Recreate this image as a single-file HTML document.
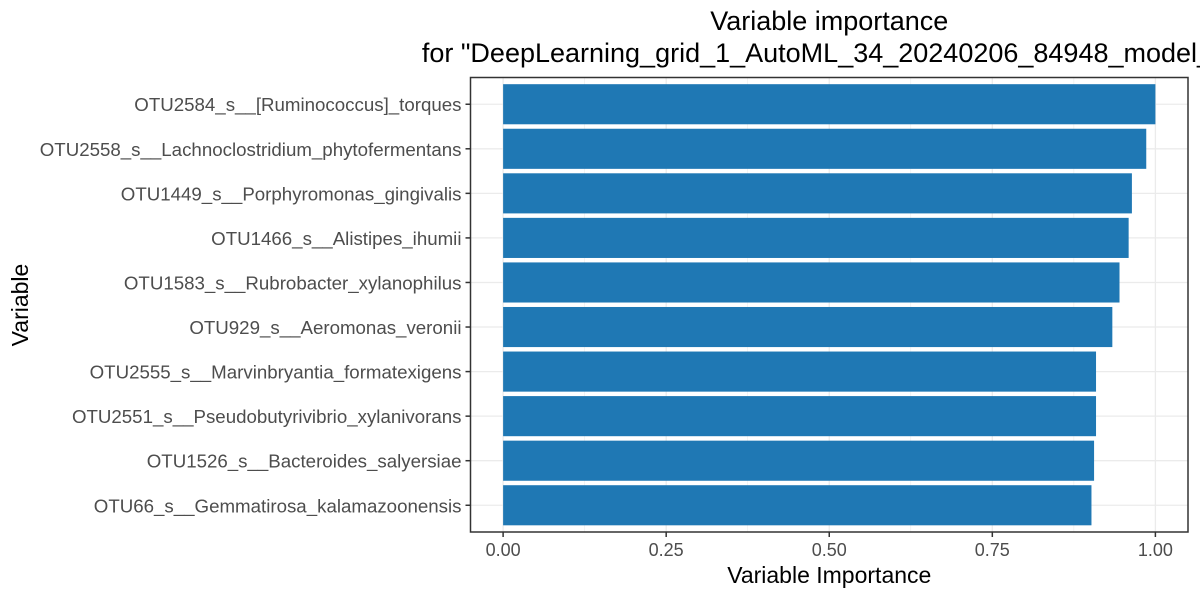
<!DOCTYPE html>
<html><head><meta charset="utf-8"><style>
body{margin:0;background:#fff;overflow:hidden;}
svg text{font-family:"Liberation Sans",sans-serif;}
</style></head><body>
<svg width="1200" height="600" id="chart">
</svg>
<script>
const categories=["OTU2584_s__[Ruminococcus]_torques","OTU2558_s__Lachnoclostridium_phytofermentans","OTU1449_s__Porphyromonas_gingivalis","OTU1466_s__Alistipes_ihumii","OTU1583_s__Rubrobacter_xylanophilus","OTU929_s__Aeromonas_veronii","OTU2555_s__Marvinbryantia_formatexigens","OTU2551_s__Pseudobutyrivibrio_xylanivorans","OTU1526_s__Bacteroides_salyersiae","OTU66_s__Gemmatirosa_kalamazoonensis"];
const importance=[1.0,0.986,0.964,0.959,0.945,0.934,0.909,0.909,0.906,0.902];
const xTicks=[0,0.25,0.5,0.75,1.0];
const xTickLabels=["0.00","0.25","0.50","0.75","1.00"];
const NS="http://www.w3.org/2000/svg";
const svg=document.getElementById('chart');
const L=470.5,R=1188,T=77.5,B=532;
const x=v=>L+(v+0.05)/1.1*(R-L);
const band=(B-T)/(categories.length-1+1.2);
const y=i=>T+(0.6+i)*band;
function mk(tag,attrs,parent){const e=document.createElementNS(NS,tag);for(const k in attrs)e.setAttribute(k,attrs[k]);(parent||svg).appendChild(e);return e;}
for(let i=0;i<xTicks.length-1;i++){const m=(xTicks[i]+xTicks[i+1])/2;
const g=mk('line',{x1:x(m),x2:x(m),y1:T,y2:B,stroke:'#ebebeb','stroke-width':0.6});

}
xTicks.forEach(t=>{const g=mk('line',{x1:x(t),x2:x(t),y1:T,y2:B,stroke:'#ebebeb','stroke-width':1.3});

});
categories.forEach((c,i)=>{const g=mk('line',{x1:L,x2:R,y1:y(i),y2:y(i),stroke:'#ebebeb','stroke-width':1.3});

});
categories.forEach((c,i)=>{const r=mk('rect',{x:x(0),y:y(i)-band*0.45,width:x(importance[i])-x(0),height:band*0.9,fill:'#1f78b4'});


const tk=mk('line',{x1:L-5,x2:L,y1:y(i),y2:y(i),stroke:'#333','stroke-width':1.5});


const t=mk('text',{x:L-9,y:y(i)+7,'text-anchor':'end','font-size':18.7,fill:'#4d4d4d'});t.textContent=c;

});
xTicks.forEach((v,i)=>{const tk=mk('line',{x1:x(v),x2:x(v),y1:B,y2:B+5,stroke:'#333','stroke-width':1.5});


const t=mk('text',{x:x(v),y:556,'text-anchor':'middle','font-size':18,fill:'#4d4d4d'});t.textContent=xTickLabels[i];

});
const bd=mk('rect',{x:L,y:T,width:R-L,height:B-T,fill:'none',stroke:'#333','stroke-width':1.5});


const xt=mk('text',{x:(L+R)/2,y:583,'text-anchor':'middle','font-size':23,fill:'#000'});xt.textContent='Variable Importance';


const yt=mk('text',{x:0,y:0,'text-anchor':'middle','font-size':23,fill:'#000',transform:'translate(28,305) rotate(-90)'});yt.textContent='Variable';


const t1=mk('text',{x:(L+R)/2,y:30,'text-anchor':'middle','font-size':27,fill:'#000'});t1.textContent='Variable importance';


const t2=mk('text',{x:(L+R)/2,y:62,'text-anchor':'middle','font-size':27,fill:'#000'});t2.textContent='for "DeepLearning_grid_1_AutoML_34_20240206_84948_model_1"';


</script>
</body></html>
